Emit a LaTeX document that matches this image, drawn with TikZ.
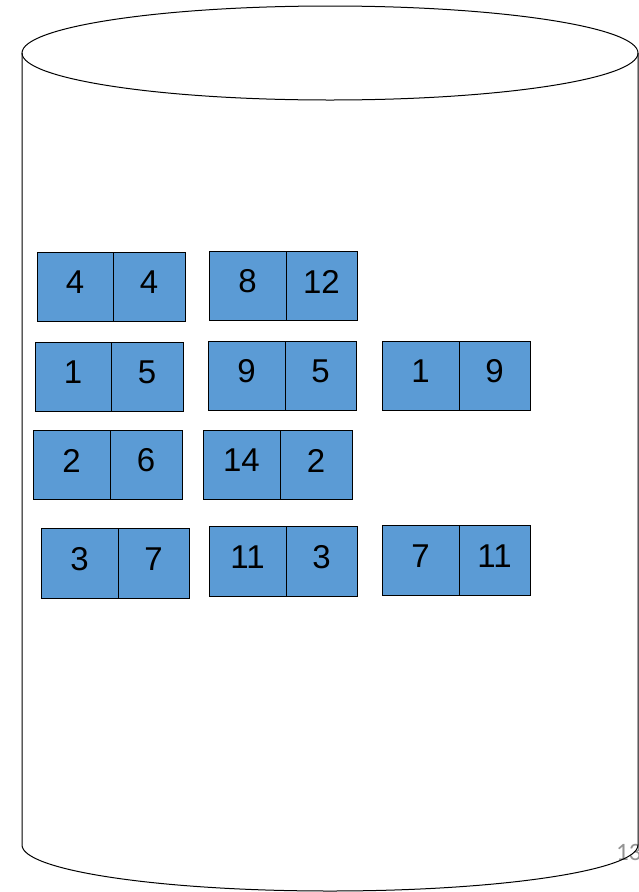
\documentclass[tikz,border=0pt]{standalone}
\usepackage{fontspec}
\setmainfont{Liberation Sans}
\newfontfamily\pagefont{Carlito}
\definecolor{cellblue}{HTML}{5B9BD5}
\begin{document}
\begin{tikzpicture}[x=1pt,y=-1pt,
  cell/.style={draw=black,line width=1pt,fill=cellblue,inner sep=0pt},
  num/.style={font=\fontsize{33}{33}\selectfont,inner sep=0pt}]
\useasboundingbox (0,0) rectangle (639,892);
\begin{scope}
\clip (0,0) rectangle (639,892);
% cylinder
\node[anchor=west,text=gray!85,font=\pagefont\fontsize{25}{25}\selectfont,inner sep=0pt] (pg) at (616,852) {13};
\draw[line width=1pt] (330,53) ellipse [x radius=308, y radius=47];
\draw[line width=1pt] (22,53) -- (22,845) arc[start angle=180,end angle=0,x radius=308,y radius=46] -- (638,53);
\end{scope}
% \pairbox{name}{x1}{xm}{x2}{y1}{y2}{a}{b}
\newcommand{\pairbox}[8]{%
  \draw[cell] (#2,#5) rectangle (#3,#6);
  \draw[cell] (#3,#5) rectangle (#4,#6);
  \node[num] (#1a) at ({(#2+#3)/2},{(#5+#6)/2-4}) {#7};
  \node[num] (#1b) at ({(#3+#4)/2},{(#5+#6)/2-4}) {#8};
}
\pairbox{r1c1}{37}{113}{185}{252}{321}{4}{4}
\pairbox{r1c2}{209}{286}{357}{251}{320}{8}{12}
\pairbox{r2c1}{35}{111}{183}{342}{411}{1}{5}
\pairbox{r2c2}{208}{285}{356}{341}{410}{9}{5}
\pairbox{r2c3}{382}{459}{530}{341}{410}{1}{9}
\pairbox{r3c1}{33}{110}{182}{430}{499}{2}{6}
\pairbox{r3c2}{203}{280}{352}{430}{499}{14}{2}
\pairbox{r4c1}{41}{118}{189}{528}{598}{3}{7}
\pairbox{r4c2}{209}{286}{357}{526}{596}{11}{3}
\pairbox{r4c3}{382}{459}{530}{525}{595}{7}{11}
\end{tikzpicture}
\end{document}
